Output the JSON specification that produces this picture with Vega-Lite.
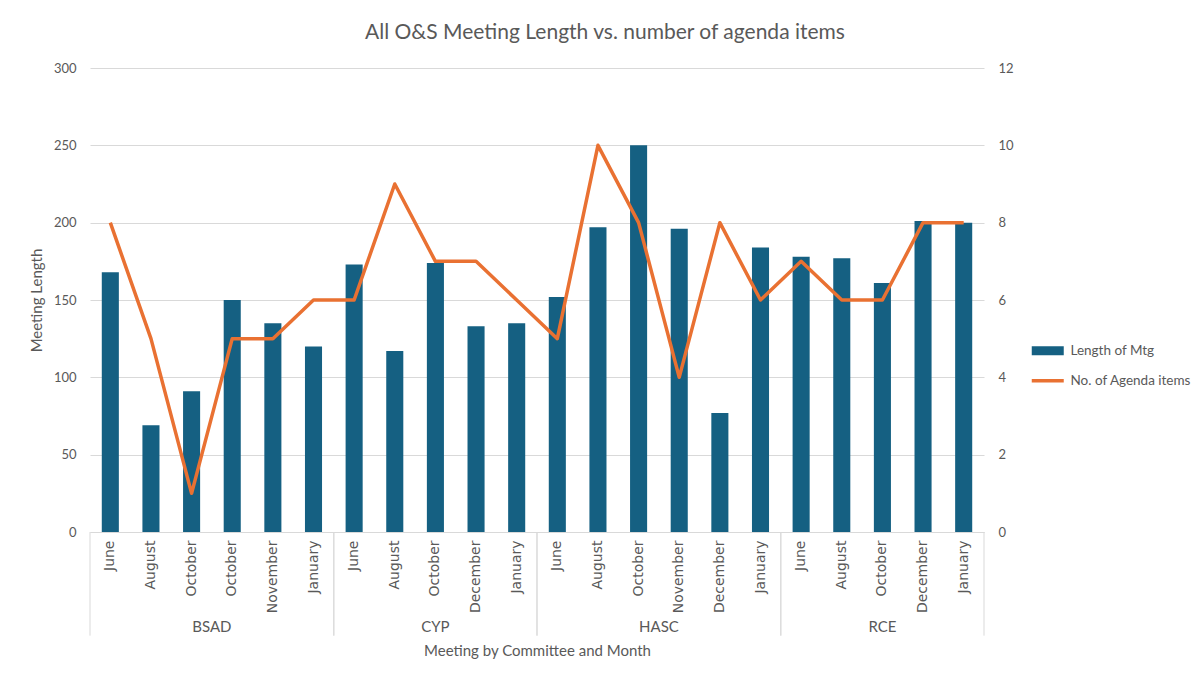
{
  "$schema": "https://vega.github.io/schema/vega-lite/v6.json",
  "width": 894,
  "height": 464,
  "autosize": "none",
  "padding": {"left": 90, "top": 68, "right": 219, "bottom": 145},
  "background": "white",
  "config": {
    "font": "Lato",
    "view": {"stroke": null},
    "axis": {"labelColor": "#595959", "titleColor": "#595959", "labelFont": "Lato", "titleFont": "Lato", "titleFontWeight": "normal"}
  },
  "title": {
    "text": "All O&S Meeting Length vs. number of agenda items",
    "font": "Lato",
    "fontSize": 21,
    "fontWeight": "normal",
    "color": "#595959",
    "anchor": "middle",
    "dx": 68,
    "offset": 19
  },
  "datasets": {
    "meetings": [
      {"key": "BSAD|June|1", "committee": "BSAD", "month": "June", "length": 168, "items": 8},
      {"key": "BSAD|August|2", "committee": "BSAD", "month": "August", "length": 69, "items": 5},
      {"key": "BSAD|October|3", "committee": "BSAD", "month": "October", "length": 91, "items": 1},
      {"key": "BSAD|October|4", "committee": "BSAD", "month": "October", "length": 150, "items": 5},
      {"key": "BSAD|November|5", "committee": "BSAD", "month": "November", "length": 135, "items": 5},
      {"key": "BSAD|January|6", "committee": "BSAD", "month": "January", "length": 120, "items": 6},
      {"key": "CYP|June|7", "committee": "CYP", "month": "June", "length": 173, "items": 6},
      {"key": "CYP|August|8", "committee": "CYP", "month": "August", "length": 117, "items": 9},
      {"key": "CYP|October|9", "committee": "CYP", "month": "October", "length": 174, "items": 7},
      {"key": "CYP|December|10", "committee": "CYP", "month": "December", "length": 133, "items": 7},
      {"key": "CYP|January|11", "committee": "CYP", "month": "January", "length": 135, "items": 6},
      {"key": "HASC|June|12", "committee": "HASC", "month": "June", "length": 152, "items": 5},
      {"key": "HASC|August|13", "committee": "HASC", "month": "August", "length": 197, "items": 10},
      {"key": "HASC|October|14", "committee": "HASC", "month": "October", "length": 250, "items": 8},
      {"key": "HASC|November|15", "committee": "HASC", "month": "November", "length": 196, "items": 4},
      {"key": "HASC|December|16", "committee": "HASC", "month": "December", "length": 77, "items": 8},
      {"key": "HASC|January|17", "committee": "HASC", "month": "January", "length": 184, "items": 6},
      {"key": "RCE|June|18", "committee": "RCE", "month": "June", "length": 178, "items": 7},
      {"key": "RCE|August|19", "committee": "RCE", "month": "August", "length": 177, "items": 6},
      {"key": "RCE|October|20", "committee": "RCE", "month": "October", "length": 161, "items": 6},
      {"key": "RCE|December|21", "committee": "RCE", "month": "December", "length": 201, "items": 8},
      {"key": "RCE|January|22", "committee": "RCE", "month": "January", "length": 200, "items": 8}
    ],
    "groups": [
      {"committee": "BSAD", "first": "BSAD|June|1", "mid": "BSAD|October|3", "last": "BSAD|January|6", "even": true},
      {"committee": "CYP", "first": "CYP|June|7", "mid": "CYP|October|9", "last": "CYP|January|11", "even": false},
      {"committee": "HASC", "first": "HASC|June|12", "mid": "HASC|October|14", "last": "HASC|January|17", "even": true},
      {"committee": "RCE", "first": "RCE|June|18", "mid": "RCE|October|20", "last": "RCE|January|22", "even": false}
    ]
  },
  "layer": [
    {
      "layer": [
        {
          "data": {"name": "meetings"},
          "mark": {"type": "bar", "width": {"band": 0.42}, "color": "#156082"},
          "encoding": {
            "x": {
              "field": "key", "type": "nominal", "sort": null,
              "scale": {"paddingInner": 0, "paddingOuter": 0, "domain": ["BSAD|June|1","BSAD|August|2","BSAD|October|3","BSAD|October|4","BSAD|November|5","BSAD|January|6","CYP|June|7","CYP|August|8","CYP|October|9","CYP|December|10","CYP|January|11","HASC|June|12","HASC|August|13","HASC|October|14","HASC|November|15","HASC|December|16","HASC|January|17","RCE|June|18","RCE|August|19","RCE|October|20","RCE|December|21","RCE|January|22"]},
              "axis": {
                "title": "Meeting by Committee and Month",
                "titleFontSize": 15,
                "titleY": 118,
                "titleBaseline": "middle",
                "labelExpr": "split(datum.label, '|')[1]",
                "labelAngle": -90,
                "labelFont": "DejaVu Sans",
                "labelFontSize": 14,
                "labelPadding": 8,
                "ticks": false,
                "domainColor": "#d9d9d9",
                "grid": false
              }
            },
            "y": {
              "field": "length", "type": "quantitative",
              "scale": {"domain": [0, 300], "nice": false, "zero": true},
              "axis": {
                "title": "Meeting Length",
                "titleFontSize": 15,
                "titleX": -46,
                "values": [0, 50, 100, 150, 200, 250, 300],
                "labelFontSize": 13,
                "labelPadding": 14,
                "ticks": false,
                "tickSize": 0,
                "domain": false,
                "grid": true,
                "gridColor": "#d9d9d9"
              }
            },
            "color": {
              "datum": "Length of Mtg",
              "type": "nominal",
              "scale": {"domain": ["Length of Mtg", "No. of Agenda items"], "range": ["#156082", "#E97132"]},
              "legend": {
                "title": null,
                "orient": "none",
                "legendX": 951,
                "legendY": 276,
                "labelFontSize": 13.5,
                "labelColor": "#595959",
                "labelFont": "Lato",
                "labelOffset": 16,
                "rowPadding": 15,
                "encode": {
                  "symbols": {
                    "update": {
                      "shape": {"signal": "datum.value === 'Length of Mtg' ? 'M-1,-0.28H1V0.28H-1Z' : 'M-1,0H1'"},
                      "size": {"value": 1024},
                      "fill": {"signal": "datum.value === 'Length of Mtg' ? '#156082' : 'transparent'"},
                      "stroke": {"signal": "datum.value === 'Length of Mtg' ? '#156082' : '#E97132'"},
                      "strokeWidth": {"signal": "datum.value === 'Length of Mtg' ? 0 : 3.5"},
                      "opacity": {"value": 1}
                    }
                  }
                }
              }
            }
          }
        },
        {
          "data": {"name": "groups"},
          "mark": {"type": "rule", "color": "#d9d9d9", "strokeWidth": 1},
          "encoding": {
            "x": {"field": "first", "type": "nominal", "bandPosition": 0},
            "y": {"datum": 0, "type": "quantitative"},
            "y2": {"datum": -67}
          }
        },
        {
          "data": {"name": "groups"},
          "mark": {"type": "rule", "color": "#d9d9d9", "strokeWidth": 1},
          "encoding": {
            "x": {"field": "last", "type": "nominal", "bandPosition": 1},
            "y": {"datum": 0, "type": "quantitative"},
            "y2": {"datum": -67}
          }
        },
        {
          "data": {"name": "groups"},
          "transform": [{"filter": "datum.even"}],
          "mark": {"type": "text", "fontSize": 15, "color": "#595959", "font": "Lato", "baseline": "middle"},
          "encoding": {
            "x": {"field": "mid", "type": "nominal", "bandPosition": 1},
            "y": {"datum": -61.5, "type": "quantitative"},
            "text": {"field": "committee"}
          }
        },
        {
          "data": {"name": "groups"},
          "transform": [{"filter": "!datum.even"}],
          "mark": {"type": "text", "fontSize": 15, "color": "#595959", "font": "Lato", "baseline": "middle"},
          "encoding": {
            "x": {"field": "mid", "type": "nominal", "bandPosition": 0.5},
            "y": {"datum": -61.5, "type": "quantitative"},
            "text": {"field": "committee"}
          }
        }
      ]
    },
    {
      "data": {"name": "meetings"},
      "mark": {"type": "line", "strokeWidth": 3.5, "strokeJoin": "round"},
      "encoding": {
        "x": {"field": "key", "type": "nominal", "sort": null},
        "y": {
          "field": "items", "type": "quantitative",
          "scale": {"domain": [0, 12], "nice": false},
          "axis": {
            "orient": "right",
            "title": null,
            "values": [0, 2, 4, 6, 8, 10, 12],
            "labelFontSize": 13,
            "labelPadding": 14,
            "ticks": false,
            "tickSize": 0,
            "domain": false,
            "grid": false
          }
        },
        "color": {"datum": "No. of Agenda items", "type": "nominal"}
      }
    }
  ],
  "resolve": {"scale": {"y": "independent"}}
}
